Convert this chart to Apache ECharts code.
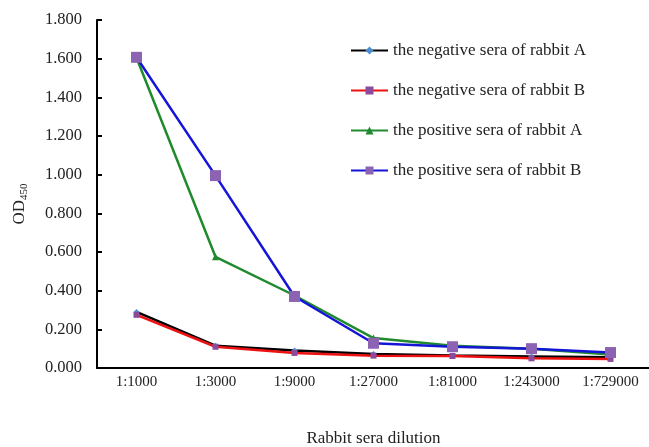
<!DOCTYPE html>
<html><head><meta charset="utf-8">
<script src="https://cdn.jsdelivr.net/npm/echarts@6/dist/echarts.min.js"></script>
<style>html,body{margin:0;padding:0;background:#fff;overflow:hidden}#c{width:649px;height:447px}</style>
</head><body><div id="c"></div>
<script>
const categories = ['1:1000','1:3000','1:9000','1:27000','1:81000','1:243000','1:729000'];
const negA = [0.290, 0.115, 0.090, 0.072, 0.065, 0.060, 0.055];
const negB = [0.275, 0.110, 0.078, 0.064, 0.062, 0.050, 0.047];
const posA = [1.605, 0.575, 0.375, 0.155, 0.115, 0.100, 0.070];
const posB = [1.607, 0.995, 0.370, 0.128, 0.110, 0.100, 0.080];
const seriesNames = ['the negative sera of rabbit A','the negative sera of rabbit B','the positive sera of rabbit A','the positive sera of rabbit B'];

const font = 'Liberation Serif';
const chart = echarts.init(document.getElementById('c'));
function mk(name, data, lineColor, symbol, size, symColor){
  return {name, type:'line', data, symbol, symbolSize:size,
    lineStyle:{color:lineColor, width:2.5},
    itemStyle:{color:symColor, borderWidth:0},
    emphasis:{disabled:true}};
}
chart.setOption({
  animation:false,
  backgroundColor:'#fff',
  grid:{left:97, right:-1, top:20, bottom:79, containLabel:false, outerBoundsMode:'none'},
  legend:{
    orient:'vertical', left:345, top:37, itemGap:23, itemWidth:37, itemHeight:10,
    textStyle:{fontFamily:font, fontSize:17, color:'#222'},
    data:seriesNames
  },
  xAxis:{
    type:'category', data:categories, boundaryGap:true,
    axisLine:{lineStyle:{color:'#000', width:2}},
    axisTick:{inside:true, length:5, lineStyle:{color:'#000', width:2}},
    axisLabel:{fontFamily:font, fontSize:15, color:'#222', margin:7},
    name:'Rabbit sera dilution', nameLocation:'middle', nameGap:62,
    nameTextStyle:{fontFamily:font, fontSize:17, color:'#222'}
  },
  yAxis:{
    type:'value', min:0, max:1.8, interval:0.2,
    axisLine:{show:true, lineStyle:{color:'#000', width:2}},
    axisTick:{show:true, inside:true, length:5, lineStyle:{color:'#000', width:2}},
    splitLine:{show:false},
    axisLabel:{fontFamily:font, fontSize:16.5, color:'#222', margin:15, formatter:v=>v.toFixed(3)},
    name:'{a|OD}{b|450}', nameLocation:'middle', nameGap:67, nameRotate:90,
    nameTextStyle:{padding:[0,20,0,0], rich:{a:{fontFamily:font, fontSize:17, color:'#222'}, b:{fontFamily:font, fontSize:11, color:'#222', verticalAlign:'bottom', padding:[9,0,0,0]}}}
  },
  series:[
    mk(seriesNames[0], negA, '#000000', 'diamond', 6, '#4a8fd6'),
    mk(seriesNames[1], negB, '#ee1111', 'rect', 6, '#8b4a9a'),
    mk(seriesNames[2], posA, '#1f8a2e', 'triangle', 7, '#1f8a2e'),
    mk(seriesNames[3], posB, '#1515d8', 'rect', 11, '#8c63b3')
  ]
});
</script></body></html>
